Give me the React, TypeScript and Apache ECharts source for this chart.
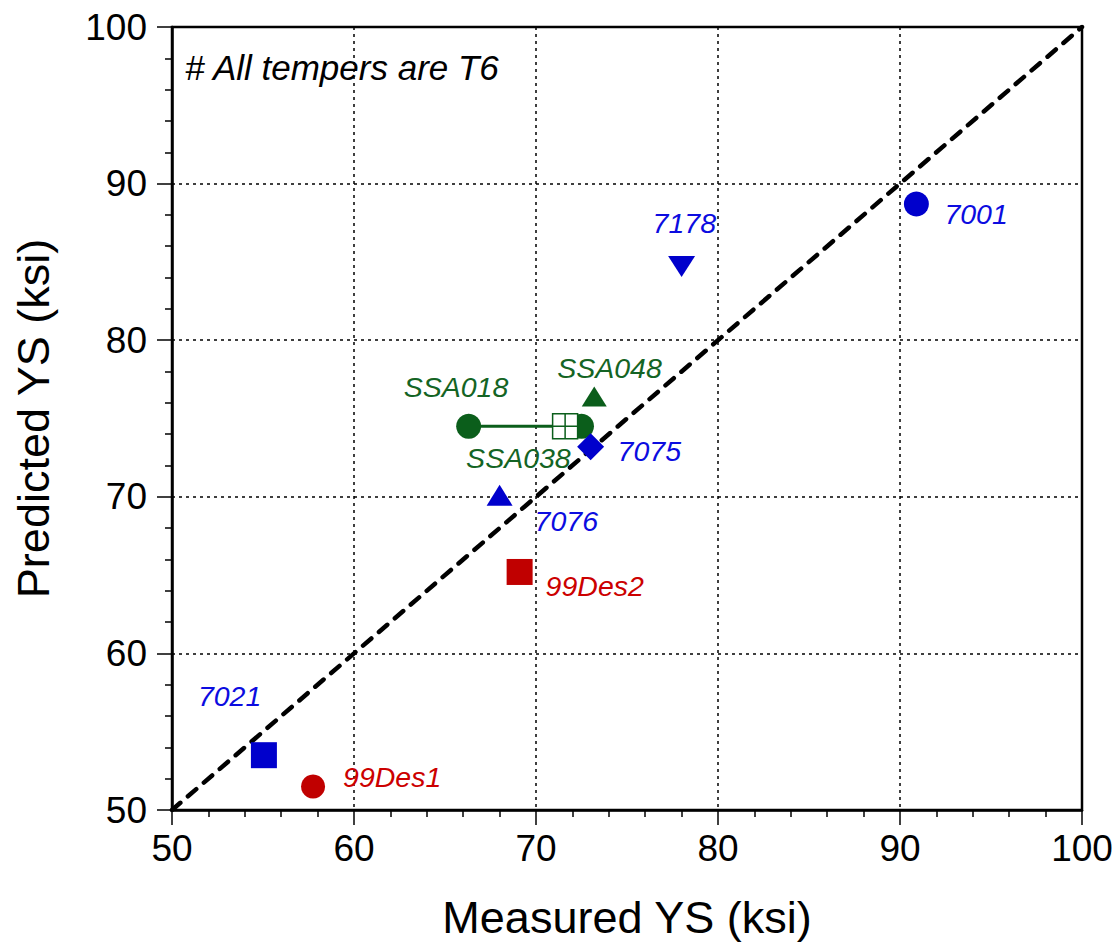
import React, { useEffect, useRef } from "react";
import * as echarts from "echarts";

// ---- data ----
const axisTicks = [50, 60, 70, 80, 90, 100];
const pointNames = ["7001", "7178", "7075", "7076", "7021", "99Des1", "99Des2", "SSA048", "SSA038"];
const measuredYS = [90.9, 78.0, 73.0, 68.0, 55.05, 57.75, 69.1, 73.2, 71.6];
const predictedYS = [88.7, 84.7, 73.2, 70.1, 53.5, 51.5, 65.2, 76.4, 74.5];
const ssa018Measured = [66.3, 72.5];
const ssa018Predicted = [74.5, 74.5];
const diagonal = [50, 100];
const noteText = "# All tempers are T6";

// ---- styles ----
const BLUE = "#0000cc";
const RED = "#c00000";
const GREEN = "#0b5e1b";
const BLUE_T = "#0c0ce0";
const RED_T = "#cc0000";
const GREEN_T = "#146424";
const FONT = "'Liberation Sans', Arial, sans-serif";

const SQUARE_CROSS = "path://M0,0 H10 V10 H0 Z M5,0 V10 M0,5 H10";

const pointStyles = [
  { symbol: "circle", size: 25, color: BLUE, text: BLUE_T, offset: [28, 10] },
  { symbol: "triangle", size: [27, 21], rotate: 180, color: BLUE, text: BLUE_T, offset: [-29, -44] },
  { symbol: "diamond", size: [27, 27], color: BLUE, text: BLUE_T, offset: [27, 4] },
  { symbol: "triangle", size: [26, 21], color: BLUE, text: BLUE_T, offset: [35, 26] },
  { symbol: "rect", size: 26, color: BLUE, text: BLUE_T, offset: [-66, -59] },
  { symbol: "circle", size: 24, color: RED, text: RED_T, offset: [30, -10] },
  { symbol: "rect", size: 26, color: RED, text: RED_T, offset: [26, 14] },
  { symbol: "triangle", size: [25, 20], color: GREEN, text: GREEN_T, offset: [-37, -29] },
  { symbol: SQUARE_CROSS, size: 25, color: "#ffffff", border: GREEN, text: GREEN_T, offset: [-99, 32] },
];

export default function App() {
  const ref = useRef<HTMLDivElement>(null);

  useEffect(() => {
    if (!ref.current) return;
    const chart = echarts.init(ref.current, null, { renderer: "svg" });

    const labelFont = { fontFamily: FONT, fontStyle: "italic", fontSize: 28.5 };

    const pointSeries = pointNames.map((name, i) => {
      const st: any = pointStyles[i];
      return {
        type: "scatter",
        name,
        z: 5,
        symbol: st.symbol,
        symbolSize: st.size,
        symbolRotate: st.rotate || 0,
        itemStyle: st.border
          ? { color: st.color, borderColor: st.border, borderWidth: 1.5, opacity: 1 }
          : { color: st.color, opacity: 1 },
        label: {
          show: true,
          position: "inside",
          align: "left",
          verticalAlign: "middle",
          offset: st.offset,
          formatter: name,
          color: st.text,
          opacity: 1,
          ...labelFont,
        },
        data: [[measuredYS[i], predictedYS[i]]],
      };
    });

    const axisCommon = {
      type: "value",
      min: axisTicks[0],
      max: axisTicks[axisTicks.length - 1],
      interval: axisTicks[1] - axisTicks[0],
      nameLocation: "middle",
      nameTextStyle: { fontFamily: FONT, fontSize: 45, color: "#000" },
      axisLine: { show: true, onZero: false, lineStyle: { color: "#000", width: 2.5 } },
      axisTick: { show: true, inside: false, length: 15, lineStyle: { color: "#000", width: 1.5 } },
      minorTick: { show: true, splitNumber: 5, length: 7, lineStyle: { color: "#000", width: 1.5 } },
      splitLine: { show: true, lineStyle: { color: "#000", width: 1.5, type: [3, 4] } },
      minorSplitLine: { show: false },
    };

    chart.setOption({
      animation: false,
      backgroundColor: "#ffffff",
      grid: {
        left: 172,
        right: 35,
        top: 27,
        bottom: 132,
        show: true,
        borderColor: "#000",
        borderWidth: 2.5,
        backgroundColor: "transparent",
      },
      xAxis: {
        ...axisCommon,
        name: "Measured YS (ksi)",
        nameGap: 85,
        axisLabel: { margin: 20, fontFamily: FONT, fontSize: 37, color: "#000" },
      },
      yAxis: {
        ...axisCommon,
        name: "Predicted YS (ksi)",
        nameGap: 116,
        axisLabel: { margin: 25, fontFamily: FONT, fontSize: 37, color: "#000" },
      },
      graphic: [
        {
          type: "text",
          left: 185,
          top: 50,
          style: {
            text: noteText,
            fontFamily: FONT,
            fontStyle: "italic",
            fontSize: 35,
            fill: "#000",
          },
        },
      ],
      series: [
        {
          type: "line",
          z: 2,
          symbol: "none",
          silent: true,
          lineStyle: { color: "#000", width: 4.5, type: [11, 10], cap: "round" },
          data: [
            [diagonal[0], diagonal[0]],
            [diagonal[1], diagonal[1]],
          ],
        },
        {
          type: "line",
          name: "SSA018",
          z: 4,
          symbol: "circle",
          symbolSize: 25,
          showAllSymbol: true,
          itemStyle: { color: GREEN, opacity: 1 },
          lineStyle: { color: GREEN, width: 3 },
          label: { show: false },
          data: ssa018Measured.map((x, i) => [x, ssa018Predicted[i]]),
        },
        {
          type: "scatter",
          name: "SSA018 label",
          z: 4,
          symbolSize: 0,
          itemStyle: { opacity: 1 },
          label: {
            show: true,
            position: "inside",
            align: "left",
            verticalAlign: "middle",
            offset: [-65, -39],
            formatter: "SSA018",
            color: GREEN_T,
            ...labelFont,
          },
          data: [[ssa018Measured[0], ssa018Predicted[0]]],
        },
        ...pointSeries,
      ],
    });

    return () => chart.dispose();
  }, []);

  return (
    <div
      ref={ref}
      style={{ position: "fixed", left: 0, top: 0, width: 1117, height: 945, background: "#fff" }}
    />
  );
}
